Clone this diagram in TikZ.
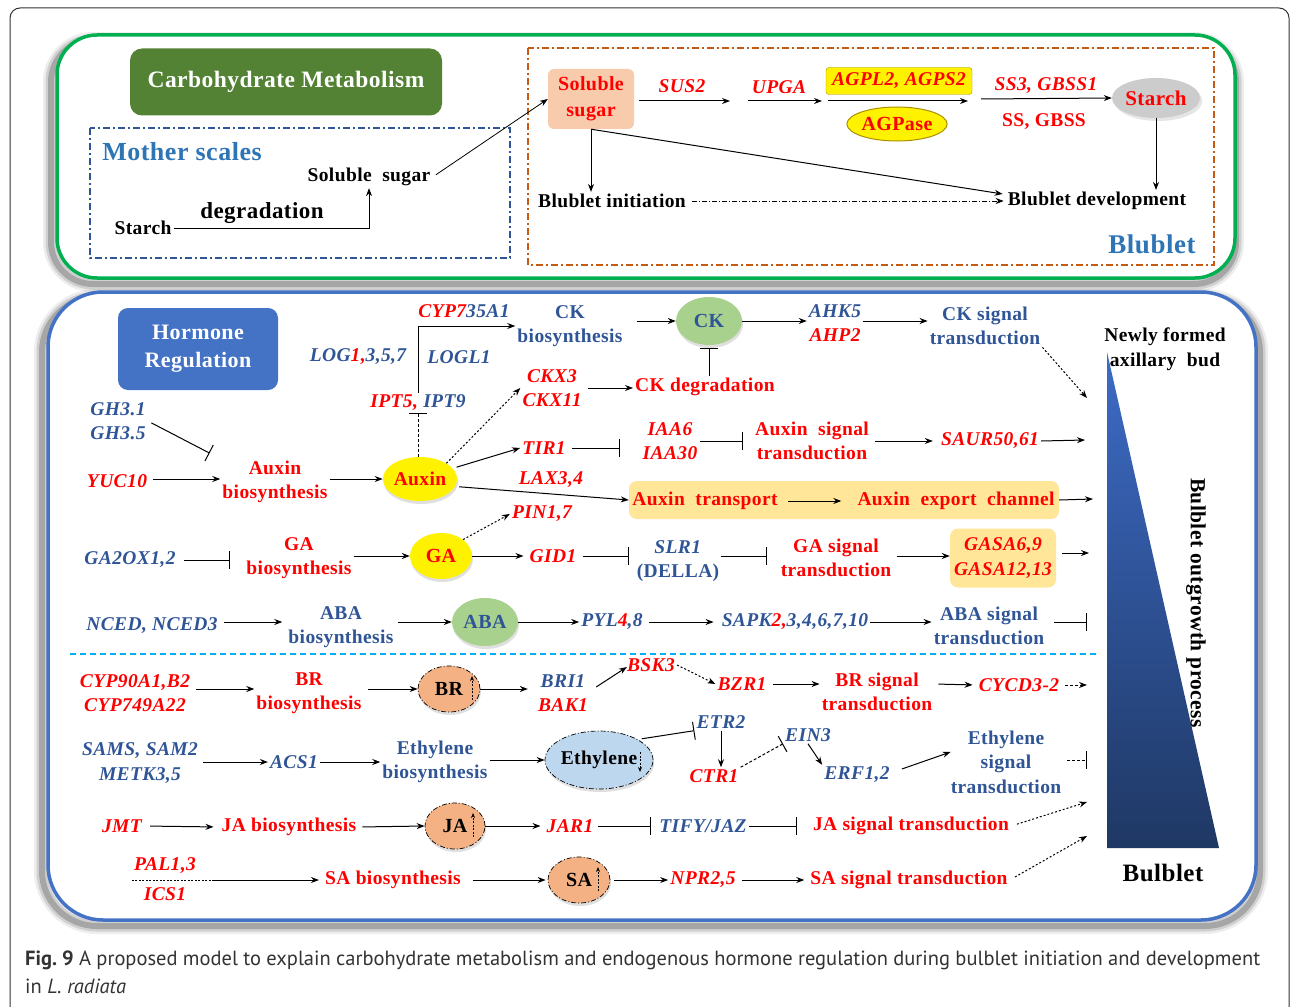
\documentclass[tikz,border=0pt]{standalone}
\usepackage{fontspec}
\setmainfont{Liberation Serif}[LetterSpace=2]
\newfontfamily\capfont{PT Sans}
\usetikzlibrary{arrows.meta,shapes.geometric,calc,shadows}
\definecolor{rd}{HTML}{FF0000}
\definecolor{bl}{HTML}{2F5597}
\definecolor{lb}{HTML}{2E75B6}
\definecolor{grn}{HTML}{00B050}
\definecolor{dgreen}{HTML}{548235}
\definecolor{orng}{HTML}{C55A11}
\definecolor{hblue}{HTML}{4472C4}
\definecolor{peach}{HTML}{F8CBAD}
\definecolor{ckg}{HTML}{A9D18E}
\definecolor{orb}{HTML}{F4B183}
\definecolor{ltb}{HTML}{BDD7EE}
\definecolor{ybox}{HTML}{FFE699}
\definecolor{cyan2}{HTML}{00B0F0}
\definecolor{navy}{HTML}{1F3864}
\definecolor{tritop}{HTML}{3D6BC6}
\definecolor{olv}{HTML}{A89000}
\definecolor{capc}{HTML}{333333}
\newcommand{\myfs}{\fontsize{19.5}{24.5}\selectfont}
\begin{document}
\begin{tikzpicture}[x=1pt,y=-1pt,
  lab/.style={font=\bfseries\myfs, inner sep=2pt, align=center},
  rlab/.style={lab,text=rd}, blab/.style={lab,text=bl},
  gen/.style={lab,font=\bfseries\itshape\myfs},
  rgen/.style={gen,text=rd}, bgen/.style={gen,text=bl},
  arr/.style={-{Stealth[length=8pt,width=6pt]}, line width=1pt},
  inh/.style={-{Bar[width=18pt,line width=1pt]}, line width=1pt},
  dotarr/.style={arr, dash pattern=on 2pt off 2pt},
  ddot/.style={dash pattern=on 5pt off 2pt on 1pt off 2pt},
  ddot2/.style={dash pattern=on 7pt off 3pt on 2pt off 3pt},
  hell/.style={ellipse, inner sep=0pt, font=\bfseries\fontsize{20}{22}\selectfont,
    drop shadow={opacity=0.25,shadow xshift=1pt,shadow yshift=-3pt}},
  smallup/.style={-{Stealth[length=5pt,width=4pt]}, dash pattern=on 2pt off 1.5pt, line width=0.8pt}
]
\useasboundingbox (0,0) rectangle (1292,1006);
\clip (0,0) rectangle (1292,1006);
\fill[white] (0,0) rectangle (1292,1006);
% outer frame
\draw[line width=1pt, black!80, rounded corners=10pt] (10,8) rectangle (1289,1040);
% shadows
\foreach \w/\o in {16/0.07, 11/0.12, 6/0.2} {
  \draw[line width=\w pt, black, opacity=\o, rounded corners=42pt] (51,40) rectangle (1236,284);
  \draw[line width=\w pt, black, opacity=\o, rounded corners=55pt] (42,297) rectangle (1260,926);
}
\filldraw[fill=white, draw=grn, line width=3.5pt, rounded corners=40pt] (57,35) rectangle (1235,278);
\filldraw[fill=white, draw=hblue, line width=3.5pt, rounded corners=55pt] (48,292) rectangle (1256,920);

% ================= Carbohydrate part =================
\node[fill=dgreen, rounded corners=12pt, minimum width=312pt, minimum height=67pt, text=white,
  font=\bfseries\fontsize{23.5}{26}\selectfont] (cm) at (286,82) {Carbohydrate Metabolism};
\draw[bl, line width=1.5pt, ddot2] (90,128) rectangle (510,258);
\node[font=\bfseries\fontsize{26}{28}\selectfont, text=lb] (ms) at (182,152) {Mother scales};
\node[lab] (ss1) at (369,177) {Soluble\ \ sugar};
\node[lab] (st1) at (143,228) {Starch};
\node[lab, font=\bfseries\fontsize{23}{25}\selectfont] (deg) at (262,213) {degradation};

\draw[orng, line width=1.5pt, ddot2] (528,48) rectangle (1214,265);
\node[fill=peach, rounded corners=6pt, minimum width=86pt, minimum height=60pt, rlab,
  font=\bfseries\fontsize{20}{26}\selectfont] (sug) at (591,99) {Soluble\\sugar};
\node[rgen] (sus2) at (682,86) {SUS2};
\node[rgen] (upga) at (779,87) {UPGA};
\node[rgen, fill=yellow, draw=olv, rounded corners=3pt, minimum width=146pt, minimum height=27pt, inner sep=1pt] (agp) at (899,81) {AGPL2, AGPS2};
\node[ellipse, fill=yellow, draw=olv, line width=1pt, minimum width=95pt, minimum height=34pt, inner sep=0pt,
  text=rd, font=\bfseries\fontsize{20}{22}\selectfont] (agpase) at (897,124) {AGPase};
\node[rgen] (ss3) at (1046,86) {SS3, GBSS1};
\node[rlab] (ssg) at (1044,122) {SS, GBSS};
\node[ellipse, fill=black!20, minimum width=88pt, minimum height=40pt, inner sep=0pt, text=rd,
  font=\bfseries\fontsize{21}{23}\selectfont, drop shadow={opacity=0.2,shadow yshift=-3pt}] (st2) at (1156,98) {Starch};
\node[lab] (binit) at (612,201) {Blublet\ initiation};
\node[lab] (bdev) at (1097,201) {Blublet\ development};
\node[font=\bfseries\fontsize{27}{29}\selectfont, text=lb] (blub) at (1152,244) {Blublet};

\coordinate (a1) at (730,101);
\coordinate (a2) at (748,101);
\coordinate (a3) at (822,101);
\coordinate (a4) at (828,101);
\coordinate (a5) at (968,101);
\coordinate (a6) at (981,99);

\draw[arr] (st1.east) -| (ss1.south);
\draw[arr, line width=0.8pt, shorten <=4pt] (ss1.east) -- (sug.west);
\draw[arr, shorten <=5pt] (sug.east |- a1) -- (a1);
\draw[arr] (a2) -- (a3);
\draw[arr] (a4) -- (a5);
\draw[arr] (a6) -- (st2.west);
\draw[arr] (sug.south) -- (sug.south |- binit.north);
\draw[arr] (sug.south) -- ($(bdev.west)+(-3,-7)$);
\draw[arr] (st2.south) -- (st2.south |- bdev.north);
\draw[arr, line width=0.8pt, ddot, shorten <=4pt, shorten >=2pt] (binit.east) -- (bdev.west);

% ================= Hormone part =================
\node[fill=hblue, rounded corners=10pt, minimum width=160pt, minimum height=82pt, text=white, align=center,
  font=\bfseries\fontsize{22}{28}\selectfont] (hr) at (198,349) {Hormone\\Regulation};

% right side (triangle first, text over it)
\shade[top color=tritop, bottom color=navy] (1107,352) -- (1107,848) -- (1219,848) -- cycle;
\node[lab, text=black] (newly) at (1165,349) {Newly formed\\axillary\ \ bud};
\node[lab, font=\bfseries\fontsize{21.5}{24}\selectfont, rotate=-90] (bop) at (1196,603) {Bulblet outgrowth process};
\node[lab, font=\bfseries\fontsize{25}{27}\selectfont] (bulb) at (1163,873) {Bulblet};

% CK
\node[gen] (cyp735) at (464,311) {\textcolor{rd}{CYP7}\textcolor{bl}{35A1}};
\node[bgen] (log) at (358,357) {LOG\textcolor{rd}{1,}3,5,7};
\node[bgen] (logl) at (459,357) {LOGL1};
\node[gen] (ipt) at (418,403) {\textcolor{rd}{IPT5,} \textcolor{bl}{IPT9}};
\node[blab] (ckb) at (570,326) {CK\\biosynthesis};
\node[hell, fill=ckg, minimum width=66pt, minimum height=48pt, text=bl] (ck) at (709,321) {CK};
\node[gen] (ahk) at (835,323) {\textcolor{bl}{AHK5}\\\textcolor{rd}{AHP2}};
\node[blab] (cks) at (985,326) {CK signal\\transduction};
\node[rgen] (ckx) at (552,388) {CKX3\\CKX11};
\node[rlab] (ckd) at (705,387) {CK degradation};
\node[bgen] (gh) at (118,421) {GH3.1\\GH3.5};

% Auxin
\node[rgen] (yuc) at (117,481) {YUC10};
\node[rlab] (auxb) at (275,482) {Auxin\\biosynthesis};
\node[hell, fill=yellow, minimum width=66pt, minimum height=44pt, text=rd, font=\bfseries\fontsize{19.5}{22}\selectfont] (aux) at (420,479) {Auxin};
\node[rgen] (tir) at (544,448) {TIR1};
\node[rgen] (iaa) at (670,441) {IAA6\\IAA30};
\node[rlab] (auxs) at (812,441) {Auxin\ \ signal\\transduction};
\node[rgen] (saur) at (990,441) {SAUR50,61};
\node[rgen] (lax) at (551,480) {LAX3,4};
\node[fill=ybox, rounded corners=8pt, minimum width=430pt, minimum height=38pt] (atbox) at (844,500) {};
\node[rlab] (atr) at (705,501) {Auxin\ \ transport};
\node[rlab] (aec) at (956,501) {Auxin\ \ export\ \ channel};
\node[rgen] (pin) at (542,514) {PIN1,7};

% GA
\node[bgen] (ga2) at (130,560) {GA2OX1,2};
\node[rlab] (gab) at (299,558) {GA\\biosynthesis};
\node[hell, fill=yellow, minimum width=62pt, minimum height=46pt, text=rd] (ga) at (441,556) {GA};
\node[rgen] (gid) at (553,556) {GID1};
\node[blab] (slr) at (678,561) {\textit{SLR1}\\(DELLA)};
\node[rlab] (gas) at (836,558) {GA signal\\transduction};
\node[rgen, fill=ybox, rounded corners=8pt, minimum width=106pt, minimum height=59pt] (gasa) at (1003,558) {GASA6,9\\GASA12,13};

% ABA
\node[bgen] (nced) at (152,626) {NCED, NCED3};
\node[blab] (abab) at (341,627) {ABA\\biosynthesis};
\node[hell, fill=ckg, minimum width=66pt, minimum height=48pt, text=bl] (aba) at (485,622) {ABA};
\node[gen] (pyl) at (612,622) {\textcolor{bl}{PYL}\textcolor{rd}{4}\textcolor{bl}{,8}};
\node[gen] (sapk) at (795,622) {\textcolor{bl}{SAPK}\textcolor{rd}{2,}\textcolor{bl}{3,4,6,7,10}};
\node[blab] (abas) at (989,626) {ABA signal\\transduction};

\draw[cyan2, line width=1.5pt, dash pattern=on 6pt off 4pt] (70,654) -- (1096,654);

% BR
\node[rgen] (cyp90) at (135,693) {CYP90A1,B2\\CYP749A22};
\node[rlab] (brb) at (309,693) {BR\\biosynthesis};
\node[hell, fill=orb, draw=black, line width=0.7pt, ddot, minimum width=62pt, minimum height=46pt] (br) at (449,689) {BR};
\node[gen] (bri) at (563,693) {\textcolor{bl}{BRI1}\\\textcolor{rd}{BAK1}};
\node[rgen] (bsk) at (651,665) {BSK3};
\node[rgen] (bzr) at (742,684) {BZR1};
\node[rlab] (brs) at (877,692) {BR signal\\transduction};
\node[rgen] (cycd) at (1019,685) {CYCD3-2};

% Ethylene
\node[bgen] (sams) at (140,763) {SAMS, SAM2\\METK3,5};
\node[bgen] (acs) at (294,762) {ACS1};
\node[blab] (ethb) at (435,762) {Ethylene\\biosynthesis};
\node[hell, fill=ltb, draw=black, line width=0.7pt, ddot, minimum width=98pt, minimum height=58pt, font=\bfseries\myfs] (eth) at (599,760) {Ethylene};
\node[bgen] (etr) at (721,722) {ETR2};
\node[rgen] (ctr) at (714,776) {CTR1};
\node[bgen] (ein) at (808,735) {EIN3};
\node[bgen] (erf) at (857,775) {ERF1,2};
\node[blab] (eths) at (1006,762) {Ethylene\\signal\\transduction};

% JA
\node[rgen] (jmt) at (122,826) {JMT};
\node[rlab] (jab) at (289,827) {JA biosynthesis};
\node[hell, fill=orb, draw=black, line width=0.7pt, ddot, minimum width=60pt, minimum height=46pt] (ja) at (455,826) {JA};
\node[rgen] (jar) at (570,826) {JAR1};
\node[bgen] (tify) at (703,826) {TIFY/JAZ};
\node[rlab] (jas) at (911,826) {JA signal transduction};

% SA
\node[rgen] (pal) at (165,866) {PAL1,3};
\node[rgen] (ics) at (165,894) {ICS1};
\node[rlab] (sab) at (393,880) {SA biosynthesis};
\node[hell, fill=orb, draw=black, line width=0.7pt, ddot, minimum width=62pt, minimum height=46pt] (sa) at (579,880) {SA};
\node[rgen] (npr) at (703,880) {NPR2,5};
\node[rlab] (sas) at (909,880) {SA signal transduction};

% end coordinates
\coordinate (ckend) at (1087,398);
\coordinate (saurend) at (1085,440);
\coordinate (aecend) at (1093,499);
\coordinate (gasaend) at (1089,553);
\coordinate (abaend) at (1087,622);
\coordinate (cycdend) at (1087,685);
\coordinate (ethend) at (1087,760);
\coordinate (jaend) at (1087,802);
\coordinate (saend) at (1087,836);
\coordinate (pj) at (212,880);

% CK connectors
\draw[arr] (ipt.north) |- (ckb.west);
\draw[arr, shorten <=12pt] (ck.west -| ckb.east) -- (ck.west);
\draw[arr] (ck.east) -- (ahk.west |- ck.east);
\draw[arr] (ahk.east |- ck.east) -- (cks.west |- ck.east);
\draw[dotarr] (cks.south east) -- (ckend);
\draw[arr, shorten <=4pt] (ckx.east) -- (ckd.west |- ckx.east);
\draw[inh, shorten >=3pt] (ck.south |- ckd.north) -- (ck.south);
\draw[inh, dash pattern=on 3pt off 2pt] (ipt.south |- aux.north) -- (ipt.south);
\draw[dotarr] (aux.north east) -- (ckx.west);
\draw[inh, shorten <=4pt, shorten >=12pt] (gh.east) -- (auxb.north west);

% Auxin connectors
\draw[arr, shorten <=4pt] (yuc.east |- aux.west) -- (auxb.west |- aux.west);
\draw[arr] (auxb.east |- aux.west) -- (aux.west);
\draw[arr, shorten <=4pt] (aux.18) -- (tir.west);
\draw[inh, shorten <=4pt, shorten >=20pt] (tir.east) -- (iaa.west |- tir.east);
\draw[inh, shorten >=10pt] (iaa.east) -- (auxs.west);
\draw[arr, shorten <=4pt, shorten >=6pt] (auxs.east) -- (saur.west);
\draw[arr] (saur.east) -- (saurend);
\draw[arr, shorten <=4pt] (aux.-12) -- (atbox.west);
\draw[arr, shorten <=8pt, shorten >=14pt] (atr.east) -- (aec.west);
\draw[arr] (atbox.east) -- (aecend);
\draw[dotarr] (ga.north east) -- (pin.west);

% GA connectors
\draw[inh, shorten <=6pt, shorten >=14pt] (ga2.east) -- (gab.west |- ga2.east);
\draw[arr] (gab.east |- ga.west) -- (ga.west);
\draw[arr, shorten >=4pt] (ga.east) -- (gid.west);
\draw[inh, shorten <=4pt, shorten >=6pt] (gid.east) -- (slr.west |- gid.east);
\draw[inh, shorten >=12pt] (slr.east |- gid.east) -- (gas.west |- gid.east);
\draw[arr, shorten <=4pt] (gas.east |- gid.east) -- (gasa.west |- gid.east);
\draw[arr, shorten <=6pt] (gasa.east |- gasaend) -- (gasaend);

% ABA connectors
\draw[arr, shorten <=4pt, shorten >=4pt] (nced.east |- aba.west) -- (abab.west |- aba.west);
\draw[arr, shorten <=2pt] (abab.east |- aba.west) -- (aba.west);
\draw[arr] (aba.east) -- (pyl.west);
\draw[arr, shorten <=4pt, shorten >=6pt] (pyl.east) -- (sapk.west);
\draw[arr] (sapk.east) -- (abas.west |- sapk.east);
\draw[inh, shorten <=8pt] (abas.east |- abaend) -- (abaend);

% BR connectors
\draw[arr, shorten <=4pt] (cyp90.east |- br.west) -- (brb.west |- br.west);
\draw[arr, shorten <=4pt] (brb.east |- br.west) -- (br.west);
\draw[arr, shorten >=8pt] (br.east) -- (bri.west |- br.east);
\draw[arr] ($(bri.east)+(6,-6)$) -- ($(bsk.west)+(2,2)$);
\draw[dotarr] (bsk.east) -- (bzr.west);
\draw[arr, shorten <=4pt] (bzr.east) -- (brs.west |- bzr.east);
\draw[arr, shorten <=4pt, shorten >=4pt] (brs.east |- bzr.east) -- (cycd.west);
\draw[arr, dash pattern=on 3pt off 2pt, shorten <=4pt] (cycd.east) -- (cycdend);
\draw[smallup] ($(br.center)+(23,11)$) -- ++(0,-24);

% Ethylene connectors
\draw[arr, shorten <=3pt] (sams.east |- acs.west) -- (acs.west);
\draw[arr] (acs.east) -- (ethb.west |- acs.east);
\draw[arr] (ethb.east |- eth.west) -- (eth.west);
\draw[inh, shorten <=4pt] (eth.28) -- (etr.south west);
\draw[arr] (etr.south) -- (etr.south |- ctr.north);
\draw[inh, dash pattern=on 3pt off 2pt] (ctr.north east) -- (ein.south west);
\draw[arr] (ein.south) -- (erf.north west);
\draw[arr] ($(erf.east)+(10,-6)$) -- ($(eths.west)+(2,-10)$);
\draw[inh, dash pattern=on 3pt off 2pt, shorten <=4pt] (eths.east |- ethend) -- (ethend);
\draw[smallup] ($(eth.center)+(41,-8)$) -- ++(0,20);

% JA connectors
\draw[arr, shorten <=6pt, shorten >=6pt] (jmt.east) -- (jab.west);
\draw[arr, shorten <=4pt] (jab.east) -- (ja.west);
\draw[arr, shorten >=4pt] (ja.east) -- (jar.west);
\draw[inh, shorten <=2pt, shorten >=6pt] (jar.east) -- (tify.west);
\draw[inh, shorten >=14pt] (tify.east) -- (jas.west);
\draw[dotarr, shorten <=6pt] (jas.east) -- (jaend);
\draw[smallup] ($(ja.center)+(18,11)$) -- ++(0,-24);

% SA connectors
\draw[dash pattern=on 2pt off 1.5pt, line width=1pt] (pal.south west |- pj) -- (pj);
\draw[arr, shorten >=4pt] (pj) -- (sab.west);
\draw[arr, shorten <=10pt, shorten >=2pt] (sab.east) -- (sa.west);
\draw[arr, shorten <=4pt] (sa.east) -- (npr.west);
\draw[arr, shorten <=4pt, shorten >=4pt] (npr.east) -- (sas.west);
\draw[dotarr, shorten <=6pt] (sas.east) -- (saend);
\draw[smallup] ($(sa.center)+(19,11)$) -- ++(0,-24);

% caption
\node[anchor=west, inner sep=0pt, text=capc, font=\capfont\fontsize{20.5}{24}\selectfont] (cap1) at (25,960)
  {\frenchspacing\makebox[1235pt][s]{\textbf{Fig. 9} A proposed model to explain carbohydrate metabolism and endogenous hormone regulation during bulblet initiation and development}};
\node[anchor=west, inner sep=0pt, text=capc, font=\capfont\fontsize{20.5}{24}\selectfont] (cap2) at (25,986)
  {in \textit{L. radiata}};
\end{tikzpicture}
\end{document}
